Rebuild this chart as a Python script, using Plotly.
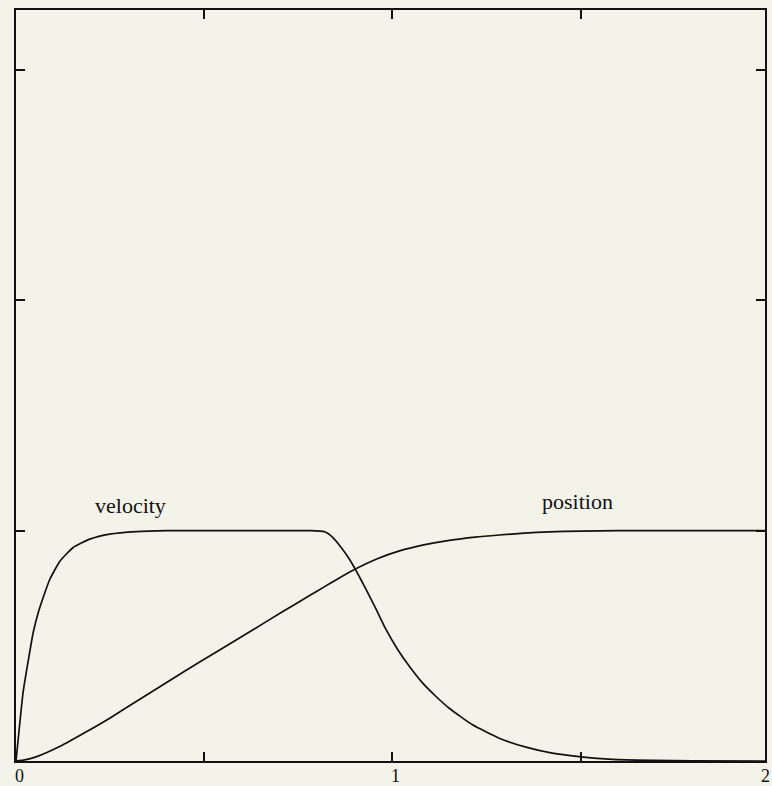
import plotly.graph_objects as go

# Velocity profile: fast first-order rise, hold, then smooth decay to rest
vel_t = [0, 0.011, 0.019, 0.033, 0.046, 0.059, 0.072, 0.090, 0.117, 0.152,
         0.196, 0.249, 0.320, 0.400, 0.500, 0.600, 0.700, 0.780, 0.820, 0.842,
         0.864, 0.886, 0.904, 0.930, 0.957, 0.983, 1.014, 1.045, 1.080, 1.116,
         1.151, 1.213, 1.284, 1.355, 1.425, 1.496, 1.584, 1.690, 1.800, 1.990]
vel_v = [0, 0.179, 0.300, 0.440, 0.560, 0.644, 0.709, 0.789, 0.868, 0.927,
         0.963, 0.985, 0.996, 1.000, 1.000, 1.000, 1.000, 1.000, 0.995, 0.970,
         0.927, 0.876, 0.825, 0.745, 0.658, 0.571, 0.484, 0.411, 0.339, 0.280,
         0.229, 0.157, 0.099, 0.060, 0.034, 0.019, 0.007, 0.003, 0.001, 0.0]

# Position profile (running integral of the velocity)
pos_t = [0, 0.020, 0.055, 0.117, 0.187, 0.249, 0.329, 0.450, 0.540, 0.621,
         0.709, 0.780, 0.820, 0.850, 0.899, 0.960, 1.019, 1.080, 1.151, 1.220,
         1.284, 1.350, 1.416, 1.500, 1.600, 1.800, 1.990]
pos_p = [0, 0.004, 0.019, 0.064, 0.127, 0.186, 0.268, 0.392, 0.481, 0.561,
         0.649, 0.718, 0.757, 0.786, 0.831, 0.878, 0.912, 0.937, 0.958, 0.972,
         0.981, 0.989, 0.995, 0.998, 1.000, 1.000, 1.000]

x_ticks = [0, 0.5, 1, 1.5]
x_labels = {"0": 0.0, "1": 1.0}
y_ticks = [0, 1, 2, 3]

bg = "#F4F3EA"
ink = "#111111"
serif = "Liberation Serif, Times New Roman, serif"

fig = go.Figure()
line_style = dict(color=ink, width=1.7, shape="spline", smoothing=0.5)
fig.add_trace(go.Scatter(x=vel_t, y=vel_v, mode="lines", line=line_style, hoverinfo="skip"))
fig.add_trace(go.Scatter(x=pos_t, y=pos_p, mode="lines", line=line_style, hoverinfo="skip"))

fig.add_annotation(x=0.305, y=1.11, xref="x", yref="y", text="velocity", showarrow=False,
                   font=dict(family=serif, size=22, color=ink))
fig.add_annotation(x=1.493, y=1.125, xref="x", yref="y", text="position", showarrow=False,
                   font=dict(family=serif, size=22, color=ink))

# Bottom tick labels, set just under the frame
for txt, xv in x_labels.items():
    fig.add_annotation(x=xv, y=-0.004, xref="x", yref="paper", text=txt, showarrow=False,
                       xanchor="center", yanchor="top", xshift=3,
                       font=dict(family=serif, size=18, color=ink))
fig.add_annotation(x=1.0, y=-0.004, xref="paper", yref="paper", text="2", showarrow=False,
                   xanchor="center", yanchor="top", font=dict(family=serif, size=18, color=ink))

fig.update_xaxes(range=[0, 1.99], tickvals=x_ticks, ticks="inside", ticklen=9,
                 tickwidth=1.5, tickcolor=ink, showline=True, linecolor=ink, linewidth=2,
                 mirror="ticks", showgrid=False, zeroline=False, showticklabels=False)
fig.update_yaxes(range=[0, 3.26], tickvals=y_ticks, ticks="inside", ticklen=9, tickwidth=1.5,
                 tickcolor=ink, showline=True, linecolor=ink, linewidth=2,
                 mirror="ticks", showgrid=False, zeroline=False, showticklabels=False)

fig.update_layout(width=772, height=786, margin=dict(l=16, r=7, t=10, b=25, autoexpand=False),
                  paper_bgcolor=bg, plot_bgcolor=bg, showlegend=False)

fig.write_html("out.html")
